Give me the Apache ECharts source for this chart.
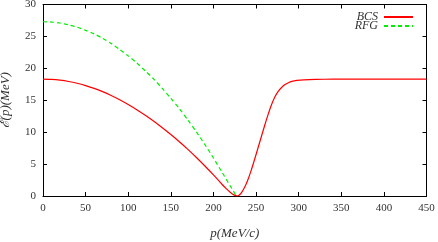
<!DOCTYPE html>
<html><head><meta charset="utf-8">
<script src="https://cdn.jsdelivr.net/npm/echarts@6/dist/echarts.min.js"></script>
<style>html,body{margin:0;padding:0;background:#fff}#c{width:438px;height:242px}</style>
</head><body><div id="c"></div>
<script>
var xTicks = [0, 50, 100, 150, 200, 250, 300, 350, 400, 450];
var yTicks = [0, 5, 10, 15, 20, 25, 30];
var seriesNames = ['BCS', 'RFG'];
var pBCS = [0,10,20,30,40,50,60,70,80,90,100,110,120,130,140,150,160,170,180,190,200,210,215,220,224,228,232,236,240,244,248,252,256,260,264,268,272,276,280,284,288,292,298,306,320,340,400,450];
var eBCS = [18.3,18.26,18.14,17.94,17.66,17.3,16.87,16.35,15.75,15.08,14.33,13.52,12.65,11.71,10.7,9.63,8.5,7.3,6.03,4.7,3.3,1.84,1.15,0.55,0.18,0.0,0.35,1.2,2.4,3.9,5.6,7.4,9.2,11.0,12.7,14.25,15.5,16.4,17.0,17.45,17.75,17.95,18.1,18.2,18.27,18.3,18.3,18.3];
var pRFG = [0,10,20,30,40,50,60,70,80,90,100,110,120,130,140,150,160,170,180,190,200,210,220,227];
var eRFG = [27.3,27.25,27.1,26.8,26.45,25.95,25.4,24.7,23.9,22.95,21.95,20.85,19.6,18.3,16.85,15.3,13.7,11.9,10.05,8.05,5.95,3.75,1.5,0.0];

function pairs(xs, ys){ return xs.map(function(x,i){ return [x, ys[i]]; }); }
var font = 'Liberation Serif';
var chart = echarts.init(document.getElementById('c'), null, {renderer:'canvas'});
var axBase = {
  type:'value', axisLine:{show:true,onZero:false,lineStyle:{color:'#000',width:1}},
  axisTick:{show:true,inside:true,length:4,lineStyle:{color:'#000'}},
  splitLine:{show:false}
};
chart.setOption({
  animation:false,
  grid:{left:43,right:11.5,top:4.5,bottom:46,containLabel:false,outerBoundsMode:'none'},
  xAxis:[
    Object.assign({}, axBase, {min:xTicks[0],max:xTicks[xTicks.length-1],interval:50,position:'bottom',
      name:'p(MeV/c)',nameLocation:'middle',nameGap:31,
      nameTextStyle:{fontFamily:font,fontStyle:'italic',fontSize:13,color:'#333'},
      axisLabel:{show:true,margin:7,fontFamily:font,fontSize:11,color:'#333'}}),
    Object.assign({}, axBase, {min:xTicks[0],max:xTicks[xTicks.length-1],interval:50,position:'top',axisLabel:{show:false}})
  ],
  yAxis:[
    Object.assign({}, axBase, {min:yTicks[0],max:yTicks[yTicks.length-1],interval:5,position:'left',
      name:'ℰ(p)(MeV)',nameLocation:'middle',nameGap:31,nameRotate:90,
      nameTextStyle:{fontFamily:font,fontStyle:'italic',fontSize:13,color:'#333'},
      axisLabel:{show:true,margin:7,fontFamily:font,fontSize:11,color:'#333'}}),
    Object.assign({}, axBase, {min:yTicks[0],max:yTicks[yTicks.length-1],interval:5,position:'right',axisLabel:{show:false}})
  ],
  legend:{
    orient:'vertical',right:24,top:11,align:'right',itemWidth:29,itemHeight:8,itemGap:-3,padding:0,
    itemStyle:{opacity:0},
    textStyle:{fontFamily:font,fontStyle:'italic',fontSize:12,color:'#333',padding:[0,1,0,0]},
    data:seriesNames
  },
  series:[
    {name:seriesNames[0],type:'line',data:pairs(pBCS,eBCS),showSymbol:false,symbol:'none',smooth:0.25,
      lineStyle:{color:'#ff0000',width:1.2},itemStyle:{color:'#ff0000'}},
    {name:seriesNames[1],type:'line',data:pairs(pRFG,eRFG),showSymbol:false,symbol:'none',smooth:0.25,
      lineStyle:{color:'#00ee00',width:1.2,type:[4,3]},itemStyle:{color:'#00ee00'}}
  ]
});
</script></body></html>
